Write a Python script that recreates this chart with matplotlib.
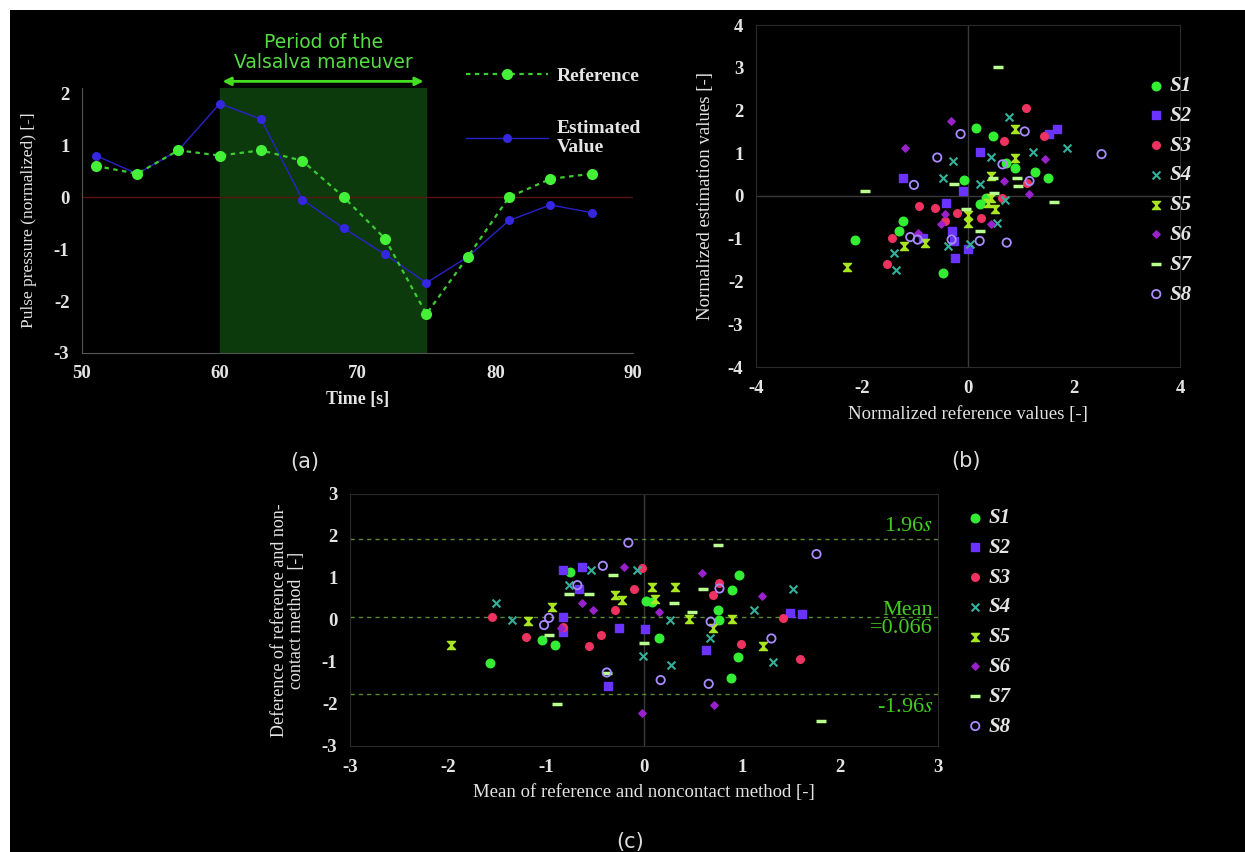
import numpy as np
import matplotlib
matplotlib.use('Agg')
import matplotlib.pyplot as plt
from matplotlib.patches import Rectangle
from matplotlib.path import Path
from matplotlib.lines import Line2D

# ===== Data =====
# (a) pulse pressure during Valsalva
time_s = [51, 54, 57, 60, 63, 66, 69, 72, 75, 78, 81, 84, 87]
pp_reference = [0.6, 0.45, 0.9, 0.8, 0.9, 0.7, 0.0, -0.8, -2.25, -1.15, 0.0, 0.35, 0.45]
pp_estimated = [0.8, 0.45, 0.9, 1.8, 1.5, -0.05, -0.6, -1.1, -1.65, -1.15, -0.45, -0.15, -0.3]
valsalva_start, valsalva_end = 60, 75

# (b) normalized reference (x) vs estimation (y), per subject
S1_ref = [0.16, 0.48, 1.26, 1.50, -0.08, 0.88, 0.71, -1.22, -1.31, -2.14, -0.48, 0.22, 0.34]
S1_est = [1.60, 1.41, 0.55, 0.43, 0.38, 0.66, 0.78, -0.59, -0.82, -1.04, -1.80, -0.18, -0.04]
S2_ref = [0.22, 1.67, 1.53, -0.10, -0.41, -1.22, -0.85, -0.27, -0.24, 0.0, -0.31]
S2_est = [1.02, 1.56, 1.45, 0.12, -0.16, 0.43, -0.98, -1.05, -1.45, -1.25, -0.82]
S3_ref = [1.09, 0.68, 1.43, -0.92, -0.63, -0.20, 0.24, -1.43, -1.53, 1.12, -0.44, 0.65]
S3_est = [2.07, 1.29, 1.41, -0.23, -0.29, -0.39, -0.51, -0.99, -1.60, 0.31, -0.59, -0.04]
S4_ref = [0.78, 1.22, 1.87, -0.29, -0.48, 0.22, 0.44, -1.36, -1.39, -0.37, 0.03, 0.54, 0.70]
S4_est = [1.84, 1.02, 1.13, 0.82, 0.41, 0.29, 0.91, -1.72, -1.33, -1.17, -1.13, -0.63, -0.10]
S5_ref = [0.88, 0.88, 0.44, -2.28, -1.20, -0.82, 0.0, 0.44, 0.51, 0.37, 0.0]
S5_est = [1.56, 0.90, 0.47, -1.66, -1.17, -1.09, -0.45, -0.04, -0.31, -0.16, -0.62]
S6_ref = [-0.32, -1.19, 1.46, 1.16, 0.44, -0.44, -0.95, -0.51, 0.68]
S6_est = [1.76, 1.13, 0.86, 0.04, -0.66, -0.43, -0.86, -0.66, 0.35]
S7_ref = [0.56, -1.94, 1.63, -0.27, 0.48, 0.92, 0.22, 0.49, -0.03, 0.95]
S7_est = [3.02, 0.12, -0.13, 0.29, 0.43, 0.43, -0.82, 0.08, -0.31, 0.23]
S8_ref = [-0.14, -0.58, 1.07, 2.52, -1.02, -1.09, -0.95, 0.22, 0.73, 0.65, 1.16, -0.31]
S8_est = [1.45, 0.90, 1.51, 0.98, 0.26, -0.96, -1.02, -1.05, -1.09, 0.74, 0.35, -1.02]

# (c) Bland-Altman: mean (x) vs difference (y), per subject
S1_mean = [-0.76, 0.02, 0.15, 0.97, 0.90, 0.76, 0.77, 0.96, 0.89, -1.57, -1.04, -0.91, 0.08]
S1_diff = [1.15, 0.45, -0.44, 1.07, 0.71, 0.24, 0.0, -0.87, -1.39, -1.03, -0.48, -0.60, 0.43]
S2_mean = [-0.83, -0.63, -0.66, -0.83, -0.83, -0.26, 0.01, -0.37, 0.63, 1.49, 1.61]
S2_diff = [1.19, 1.27, 0.75, 0.08, -0.28, -0.20, -0.22, -1.57, -0.71, 0.16, 0.14]
S3_mean = [-0.02, -0.10, -0.30, -0.44, -0.56, 0.77, 0.70, 0.99, 1.42, 1.59, -1.55, -1.20, -0.83]
S3_diff = [1.23, 0.75, 0.25, -0.36, -0.63, 0.89, 0.60, -0.57, 0.04, -0.94, 0.08, -0.40, -0.16]
S4_mean = [-1.51, -1.35, -0.54, -0.07, -0.77, 0.27, 0.67, -0.01, 0.28, 1.12, 1.52, 1.32]
S4_diff = [0.41, 0.0, 1.19, 1.19, 0.83, 0.0, -0.44, -0.86, -1.07, 0.24, 0.75, -0.99]
S5_mean = [-1.97, -1.18, -0.94, -0.30, -0.22, 0.11, 0.08, 0.32, 0.46, 0.90, 1.21, 0.70]
S5_diff = [-0.60, -0.02, 0.30, 0.60, 0.48, 0.49, 0.79, 0.79, 0.02, 0.02, -0.62, -0.20]
S6_mean = [0.59, 1.20, -0.02, 0.71, -0.63, -0.52, -0.20, 0.15, -0.85]
S6_diff = [1.13, 0.57, -2.22, -2.02, 0.40, 0.25, 1.27, 0.20, -0.20]
S7_mean = [0.75, -0.32, -0.77, -0.56, 0.31, 0.60, 0.49, 0.0, -0.38, -0.89, -0.97, 1.81]
S7_diff = [1.79, 1.07, 0.62, 0.63, 0.41, 0.75, 0.20, -0.54, -1.25, -2.0, -0.36, -2.40]
S8_mean = [-0.16, -0.42, -0.68, 0.68, 0.77, 0.17, 0.66, 1.76, 1.30, -1.02, -0.97, -0.38]
S8_diff = [1.84, 1.29, 0.83, -0.04, 0.75, -1.43, -1.52, 1.57, -0.44, -0.12, 0.05, -1.25]
mean_diff = 0.066
upper_loa, lower_loa = 1.92, -1.77

subjects = ["S1", "S2", "S3", "S4", "S5", "S6", "S7", "S8"]
b_data = [(S1_ref, S1_est), (S2_ref, S2_est), (S3_ref, S3_est), (S4_ref, S4_est),
          (S5_ref, S5_est), (S6_ref, S6_est), (S7_ref, S7_est), (S8_ref, S8_est)]
c_data = [(S1_mean, S1_diff), (S2_mean, S2_diff), (S3_mean, S3_diff), (S4_mean, S4_diff),
          (S5_mean, S5_diff), (S6_mean, S6_diff), (S7_mean, S7_diff), (S8_mean, S8_diff)]

# ===== Styles =====
hourglass = Path([(-1, 1), (1, 1), (-1, -1), (1, -1), (-1, 1)],
                 [Path.MOVETO, Path.LINETO, Path.LINETO, Path.LINETO, Path.CLOSEPOLY])
styles = [
    dict(marker='o', color='#33ee33', s=38),
    dict(marker='s', color='#6a33ff', s=34),
    dict(marker='o', color='#ee3360', s=30),
    dict(marker='x', color='#33b09a', s=32, linewidths=1.5),
    dict(marker=hourglass, color='#a8e622', s=34),
    dict(marker='D', color='#9a22cc', s=14),
    dict(marker='_', color='#b8ff90', s=60, linewidths=2.5),
    dict(marker='o', facecolors='none', edgecolors='#a98cff', s=36, linewidths=1.3),
]

W, H = 1245, 852
TXT = '#e4e4e4'
SERIF = 'Liberation Serif'
plt.rcParams['font.family'] = SERIF
plt.rcParams['axes.unicode_minus'] = False
plt.rcParams['mathtext.fontset'] = 'stix'

fig = plt.figure(figsize=(W / 100, H / 100), dpi=100, facecolor='white')
fig.patches.append(Rectangle((10 / W, 0), 1, 1 - 10 / H, transform=fig.transFigure,
                             facecolor='black', edgecolor='none', zorder=-10))

def px_axes(l, t, r, b):
    return fig.add_axes([l / W, 1 - b / H, (r - l) / W, (b - t) / H], facecolor='black')

def style_axes(ax, frame_color):
    for sp in ax.spines.values():
        sp.set_color(frame_color); sp.set_linewidth(0.8)
    ax.tick_params(length=0, colors=TXT, labelsize=13.5, pad=9)
    for lab in ax.get_xticklabels() + ax.get_yticklabels():
        lab.set_fontweight('bold')

# ===== (a) =====
ax_a = px_axes(82, 88, 633, 353)
ax_a.axvspan(valsalva_start, valsalva_end, color='#0c3a0c', zorder=0)
ax_a.axhline(0, color='#5a1414', lw=1, zorder=1)
ax_a.plot(time_s, pp_estimated, '-o', color='#2a22c8', lw=1, ms=6.5, mfc='#3526e0', mec='none', zorder=2)
ax_a.plot(time_s, pp_reference, 'o', ls=(0, (2, 2)), color='#3ccc33', lw=1.6, ms=8, mfc='#45f038', mec='none', zorder=3)
ax_a.set_xlim(50, 90); ax_a.set_ylim(-3, 2.1)
ax_a.set_xticks([50, 60, 70, 80, 90]); ax_a.set_yticks([-3, -2, -1, 0, 1, 2])
ax_a.spines['top'].set_visible(False); ax_a.spines['right'].set_visible(False)
style_axes(ax_a, '#555555')
ax_a.set_xlabel("Time [s]", color=TXT, fontsize=13, fontweight='bold', labelpad=6)
ax_a.set_ylabel("Pulse pressure (normalized) [-]", color=TXT, fontsize=12.5, labelpad=12)
ax_a.annotate('', xy=(valsalva_end, 1.025), xytext=(valsalva_start, 1.025),
              xycoords=('data', 'axes fraction'),
              arrowprops=dict(arrowstyle='<|-|>', color='#44dd22', lw=2, mutation_scale=12))
ax_a.text((valsalva_start + valsalva_end) / 2, 1.06, "Period of the\nValsalva maneuver",
          transform=ax_a.get_xaxis_transform(), ha='center', va='bottom', color='#55dd44',
          fontsize=13.5, family='DejaVu Sans', linespacing=1.05)
h_ref = Line2D([], [], ls=(0, (2, 2)), color='#3ccc33', lw=1.6, marker='o', ms=8, mfc='#45f038', mec='none')
h_est = Line2D([], [], ls='-', color='#2a22c8', lw=1, marker='o', ms=6.5, mfc='#3526e0', mec='none')
fig.legend([h_ref, h_est], ["Reference", "Estimated\nValue"], loc='upper left',
           bbox_to_anchor=(466 / W, 1 - 67 / H), frameon=False, handlelength=4.2,
           handletextpad=0.45, labelspacing=1.8, borderpad=0, borderaxespad=0,
           prop=dict(family=SERIF, size=14, weight='bold'), labelcolor=TXT)

# ===== (b) =====
ax_b = px_axes(756, 25, 1180, 367)
ax_b.axhline(0, color='#3a3a3a', lw=1, zorder=0); ax_b.axvline(0, color='#3a3a3a', lw=1, zorder=0)
handles = []
for (xs, ys), st in zip(b_data, styles):
    handles.append(ax_b.scatter(xs, ys, zorder=3, **st))
ax_b.set_xlim(-4, 4); ax_b.set_ylim(-4, 4)
ax_b.set_xticks([-4, -2, 0, 2, 4]); ax_b.set_yticks(range(-4, 5))
style_axes(ax_b, '#2a2a2a')
ax_b.set_xlabel("Normalized reference values [-]", color=TXT, fontsize=13.5, labelpad=7)
ax_b.set_ylabel("Normalized estimation values [-]", color=TXT, fontsize=13.5, labelpad=10)
leg_prop = dict(family=SERIF, size=15, style='italic', weight='bold')
fig.legend(handles, subjects, loc='upper left', bbox_to_anchor=(1150 / W, 1 - 76 / H),
           frameon=False, handlelength=0.6, handletextpad=0.35, labelspacing=0.47,
           borderpad=0, borderaxespad=0, prop=leg_prop, labelcolor=TXT)

# ===== (c) =====
ax_c = px_axes(350, 494, 938, 746)
ax_c.axvline(0, color='#3a3a3a', lw=1, zorder=0)
for yv in [upper_loa, mean_diff, lower_loa]:
    ax_c.axhline(yv, color='#5c8a30', lw=1, ls=(0, (3, 3)), zorder=1)
hc = []
for (xs, ys), st in zip(c_data, styles):
    hc.append(ax_c.scatter(xs, ys, zorder=3, **st))
ax_c.set_xlim(-3, 3); ax_c.set_ylim(-3, 3)
ax_c.set_xticks(range(-3, 4)); ax_c.set_yticks(range(-3, 4))
style_axes(ax_c, '#2a2a2a')
ax_c.set_xlabel("Mean of reference and noncontact method [-]", color=TXT, fontsize=13.5, labelpad=6)
ax_c.set_ylabel("Deference of reference and non-\ncontact method  [-]", color=TXT, fontsize=13,
                labelpad=12, linespacing=1.0)
GRN = '#44cc22'
ax_c.text(2.95, upper_loa + 0.08, "1.96$s$", ha='right', va='bottom', color=GRN, fontsize=16)
ax_c.text(2.95, mean_diff - 0.05, "Mean\n=0.066", ha='right', va='center', color=GRN, fontsize=16,
          linespacing=0.95)
ax_c.text(2.95, lower_loa - 0.08, "-1.96$s$", ha='right', va='top', color=GRN, fontsize=16)
fig.legend(hc, subjects, loc='upper left', bbox_to_anchor=(969 / W, 1 - 508 / H),
           frameon=False, handlelength=0.6, handletextpad=0.35, labelspacing=0.47,
           borderpad=0, borderaxespad=0, prop=leg_prop, labelcolor=TXT)

# ===== Panel labels =====
for lab, x, y in [("(a)", 305, 462), ("(b)", 966, 461), ("(c)", 630, 842)]:
    fig.text(x / W, 1 - y / H, lab, ha='center', va='center', color='#dddddd',
             fontsize=15, family='DejaVu Sans')

fig.savefig("out.png", dpi=100, facecolor=fig.get_facecolor())
